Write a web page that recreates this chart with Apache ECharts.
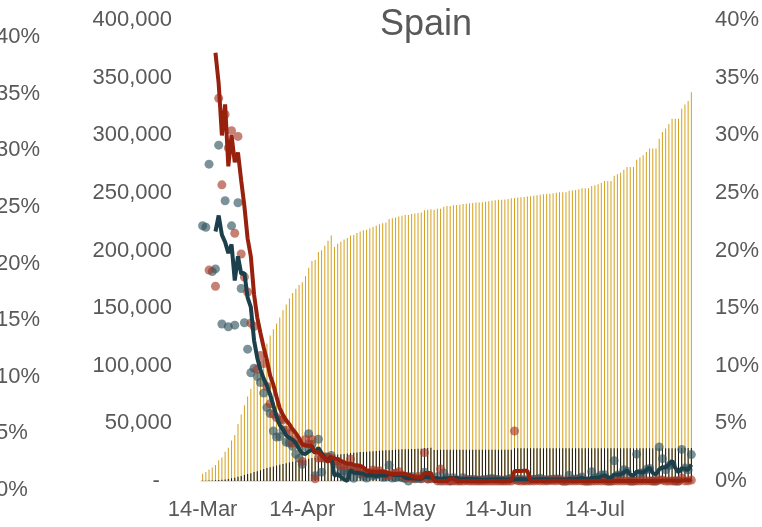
<!DOCTYPE html>
<html>
<head>
<meta charset="utf-8">
<script src="https://cdn.jsdelivr.net/npm/echarts@6/dist/echarts.min.js"></script>
<style>
  html, body { margin: 0; padding: 0; background: #fff; }
  #chart { width: 762px; height: 527px; }
</style>
</head>
<body>
<div id="chart"></div>
<script>
// ——— categories: one per day, 14-Mar .. 13-Aug ———
const monthNames = ['Jan','Feb','Mar','Apr','May','Jun','Jul','Aug','Sep'];
const dates = [];
for (let t = Date.UTC(2020, 2, 14); t <= Date.UTC(2020, 7, 13); t += 864e5) {
  const d = new Date(t);
  dates.push(d.getUTCDate() + '-' + monthNames[d.getUTCMonth()]);
}

// ——— cumulative cases (left axis) ———
const cumCases = [
  6391,7798,9942,11748,13910,17963,20410,25374,28768,35136,
  39885,49515,57786,65719,73235,80110,87956,95923,104118,112065,
  119199,126168,131646,136675,141942,148220,153222,158273,163027,166831,
  170099,172541,177644,184948,190839,191726,198674,200210,204178,208389,
  213024,202990,205905,207634,209465,210773,212917,213435,215216,216582,
  217466,218011,219329,220325,221447,222857,223578,224350,227436,228030,
  228691,229540,230183,230698,230698,231606,232037,232555,233037,234824,
  235290,235772,235400,236259,236259,237906,238564,238564,239228,239479,
  239638,240326,240660,240978,241310,241550,241717,241966,242280,242707,
  243209,243605,243928,244109,244328,244683,245268,245575,245938,246272,
  246504,246752,247086,247486,247905,248469,248770,248970,249271,249659,
  250103,250545,250545,250545,251789,252130,252513,253056,253908,253908,
  253908,255953,256619,257494,258855,260255,260255,260255,264836,266194,
  267551,270166,272421,272421,272421,278782,280610,282641,285430,288522,
  288522,288522,297054,302814,305767,309855,314362,314362,314362,322980,
  326612,329784,337334
];

// ——— cumulative deaths (left axis) ———
const cumDeaths = [
  195,289,342,533,623,830,1043,1375,1772,2311,
  2808,3647,4365,5138,5982,6803,7716,8464,9387,10348,
  11198,11947,12641,13341,14045,14792,15447,16081,16606,17209,
  17756,18056,18708,19315,20002,20043,20453,20852,21282,21717,
  22157,22524,22902,23190,23521,23822,24275,24543,24824,25100,
  25264,25428,25613,25857,26070,26299,26478,26621,26744,26920,
  27104,27321,27459,27563,27650,27709,27778,27888,27940,28628,
  28678,28752,26834,26837,27117,27118,27121,27125,27127,27127,
  27127,27128,27133,27134,27135,27136,27136,27136,27136,27136,
  27136,27136,27136,27136,27136,27136,27136,28315,28322,28322,
  28324,28325,28327,28330,28338,28341,28343,28346,28355,28363,
  28368,28385,28385,28385,28388,28392,28396,28401,28403,28403,
  28403,28403,28406,28409,28413,28416,28416,28416,28420,28422,
  28424,28426,28432,28432,28432,28436,28436,28441,28443,28445,
  28445,28445,28472,28498,28499,28500,28503,28503,28503,28576,
  28579,28581,28605
];

// ——— daily growth of cases, % (right axis dots) ———
const caseGrowth = [
  22.15,22.02,27.49,18.17,18.40,29.14,13.62,24.32,13.38,22.14,
  13.52,24.14,16.70,13.73,11.44,9.39,9.79,9.06,8.54,7.63,
  6.37,5.85,4.34,3.82,3.85,4.42,3.37,3.30,3.00,2.33,
  1.96,1.44,2.96,4.11,3.19,0.46,3.62,0.77,1.98,2.06,
  2.22,'-',1.44,0.84,0.88,0.62,1.02,0.24,0.83,0.63,
  0.41,0.25,0.60,0.45,0.51,0.64,0.32,0.35,1.38,0.26,
  0.29,0.37,0.28,0.22,0,0.39,0.19,0.22,0.21,0.77,
  0.20,0.20,'-',0.36,0,0.70,0.28,0,0.28,0.10,
  0.07,0.29,0.14,0.13,0.14,0.10,0.07,0.10,0.13,0.18,
  0.21,0.16,0.13,0.07,0.09,0.15,0.24,0.13,0.15,0.14,
  0.09,0.10,0.14,0.16,0.17,0.23,0.12,0.08,0.12,0.16,
  0.18,0.18,0,0,0.50,0.14,0.15,0.22,0.34,0,
  0,0.81,0.26,0.34,0.53,0.54,0,0,1.76,0.51,
  0.51,0.98,0.84,0,0,2.33,0.66,0.72,0.99,1.08,
  0,0,2.96,1.94,0.98,1.34,1.46,0,0,2.74,
  1.12,0.97,2.29
];

// ——— daily growth of deaths, % (right axis dots) ———
const deathGrowth = [
  '-','-',18.3,'-',16.9,33.2,25.7,31.8,28.9,30.4,
  21.5,29.9,19.7,17.7,16.4,13.7,13.4,9.7,10.9,10.2,
  8.2,6.7,5.8,5.5,5.3,5.3,4.4,4.1,3.3,3.6,
  3.2,1.7,3.6,3.2,3.6,0.2,2.0,2.0,2.1,2.0,
  2.0,1.7,1.7,1.3,1.4,1.3,1.9,1.1,1.1,1.1,
  0.65,0.65,0.73,0.95,0.82,0.88,0.68,0.54,0.46,0.66,
  0.68,0.80,0.51,0.38,0.32,0.21,0.25,0.40,0.19,2.46,
  0.17,0.26,'-',0.01,1.04,0,0.01,0.01,0.01,0,
  0,0,0.02,0,0,0,0,0,0,0,
  0,0,0,0,0,0,0,4.34,0.02,0,
  0.01,0,0.01,0.01,0.03,0.01,0.01,0.01,0.03,0.03,
  0.02,0.06,0,0,0.01,0.01,0.01,0.02,0.01,0,
  0,0,0.01,0.01,0.01,0.01,0,0,0.01,0.01,
  0.01,0.01,0.02,0,0,0.01,0,0.02,0.01,0.01,
  0,0,0.09,0.09,0,0,0.01,0,0,0.26,
  0.01,0.01,0.08
];

// ——— trend of case growth, % (dark teal line) ———
const caseTrend = [
  '-','-','-','-',21.65,23.04,21.36,20.73,19.77,20.52,
  17.40,19.50,17.98,18.05,15.91,15.08,12.21,10.68,9.64,8.88,
  8.28,7.49,6.55,5.60,4.85,4.46,3.96,3.75,3.59,3.28,
  2.79,2.41,2.34,2.56,2.73,2.43,2.87,2.43,2.00,1.78,
  2.13,0.46,0.60,0.37,0.13,0,0.96,0.72,0.72,0.67,
  0.63,0.47,0.54,0.47,0.44,0.49,0.50,0.45,0.64,0.59,
  0.52,0.53,0.52,0.28,0.23,0.25,0.22,0.20,0.20,0.36,
  0.32,0.32,0.24,0.27,0.12,0.22,0.24,0.27,0.25,0.27,
  0.15,0.15,0.18,0.15,0.15,0.16,0.12,0.11,0.11,0.12,
  0.14,0.16,0.16,0.15,0.13,0.12,0.14,0.14,0.15,0.16,
  0.15,0.12,0.12,0.13,0.13,0.16,0.16,0.15,0.14,0.14,
  0.13,0.14,0.13,0.10,0.17,0.16,0.16,0.20,0.27,0.17,
  0.14,0.27,0.28,0.28,0.39,0.50,0.33,0.28,0.57,0.56,
  0.56,0.75,0.92,0.57,0.47,0.83,0.77,0.74,0.94,1.16,
  0.69,0.56,1.01,1.20,1.18,1.44,1.74,1.14,0.76,1.11,
  1.06,0.97,1.42
];

// ——— trend of death growth, % (dark red line) ———
const deathTrend = [
  '-','-','-','-',37.16,34.48,29.98,32.68,27.30,30.00,
  27.66,28.50,26.08,23.84,21.04,19.48,16.18,14.18,12.82,11.58,
  10.48,9.14,8.36,7.28,6.30,5.72,5.26,4.92,4.48,4.14,
  3.72,3.18,3.08,3.06,3.06,2.46,2.52,2.20,1.98,1.66,
  2.02,1.96,1.90,1.74,1.62,1.48,1.52,1.40,1.36,1.30,
  1.17,0.92,0.85,0.82,0.76,0.81,0.81,0.77,0.68,0.64,
  0.60,0.63,0.62,0.61,0.54,0.45,0.33,0.31,0.27,0.70,
  0.69,0.70,0,0,0,0,0,0.21,0.21,0.01,
  0.01,0.01,0.01,0.01,0.01,0.01,0.01,0,0,0,
  0,0,0,0,0,0,0,0.87,0.87,0.87,
  0.88,0.88,0.01,0.01,0.01,0.01,0.01,0.01,0.02,0.02,
  0.02,0.03,0.03,0.02,0.02,0.01,0.01,0.01,0.01,0.01,
  0.01,0.01,0.01,0.01,0.01,0.01,0.01,0.01,0.01,0.01,
  0.01,0.01,0.01,0.01,0.01,0.01,0.01,0.01,0.01,0.01,
  0.01,0.01,0.02,0.04,0.04,0.04,0.04,0.02,0,0.05,
  0.06,0.06,0.07
];

const txt = '#595959';
const font = 'Liberation Sans, Arial, sans-serif';
const isTick = (i, v) => v.indexOf('14-') === 0;

const chart = echarts.init(document.getElementById('chart'));
chart.setOption({
  animation: false,
  backgroundColor: '#fff',
  title: {
    text: 'Spain', left: 421, top: 2, textAlign: 'center',
    textStyle: { fontSize: 36, fontWeight: 'normal', color: txt, fontFamily: font }
  },
  grid: [
    { left: 201, right: 64, top: 20, bottom: 46 },
    { left: -5, width: 1, top: 37, bottom: 37 }
  ],
  xAxis: [
    {
      type: 'category', data: dates, gridIndex: 0,
      axisLine: { lineStyle: { color: '#d9d9d9', width: 1.5 } },
      axisTick: { interval: isTick, length: 6, lineStyle: { color: '#d9d9d9', width: 1.5 } },
      axisLabel: { interval: isTick, color: txt, fontSize: 22, fontFamily: font, margin: 18 }
    },
    { type: 'value', gridIndex: 1, show: false }
  ],
  yAxis: [
    {
      type: 'value', min: 0, max: 400000, interval: 50000, position: 'left',
      axisLine: { show: false }, axisTick: { show: false }, splitLine: { show: false },
      axisLabel: {
        color: txt, fontSize: 22, fontFamily: font, margin: 29,
        formatter: v => v === 0 ? '-  ' : v.toLocaleString('en-US')
      }
    },
    {
      type: 'value', min: 0, max: 40, interval: 5, position: 'right',
      axisLine: { show: false }, axisTick: { show: false }, splitLine: { show: false },
      axisLabel: { color: txt, fontSize: 22, fontFamily: font, margin: 22, formatter: '{value}%' }
    },
    {
      // right-hand axis of the neighbouring panel, cut by the frame
      type: 'value', gridIndex: 1, min: 0, max: 40, interval: 5,
      axisLine: { show: false }, axisTick: { show: false }, splitLine: { show: false },
      axisLabel: { inside: true, margin: 0, color: txt, fontSize: 22, fontFamily: font, formatter: '{value}%' }
    }
  ],
  series: [
    {
      name: 'Cases', type: 'bar', data: cumCases, yAxisIndex: 0,
      barWidth: 1, barGap: '-100%', itemStyle: { color: '#d4a11c' }
    },
    {
      name: 'Deaths', type: 'bar', data: cumDeaths, yAxisIndex: 0,
      barWidth: 1, barGap: '-100%', itemStyle: { color: '#141414' }
    },
    {
      name: 'Case growth', type: 'scatter', data: caseGrowth, yAxisIndex: 1,
      symbolSize: 9, itemStyle: { color: 'rgba(50,84,96,0.8)' }
    },
    {
      name: 'Death growth', type: 'scatter', data: deathGrowth, yAxisIndex: 1,
      symbolSize: 9, itemStyle: { color: 'rgba(166,56,38,0.8)' }
    },
    {
      name: 'Case trend', type: 'line', data: caseTrend, yAxisIndex: 1,
      showSymbol: false, lineStyle: { color: '#1b3f4b', width: 4 }, itemStyle: { color: '#1b3f4b' }
    },
    {
      name: 'Death trend', type: 'line', data: deathTrend, yAxisIndex: 1,
      showSymbol: false, lineStyle: { color: '#98210e', width: 4 }, itemStyle: { color: '#98210e' }
    }
  ]
});
</script>
</body>
</html>
